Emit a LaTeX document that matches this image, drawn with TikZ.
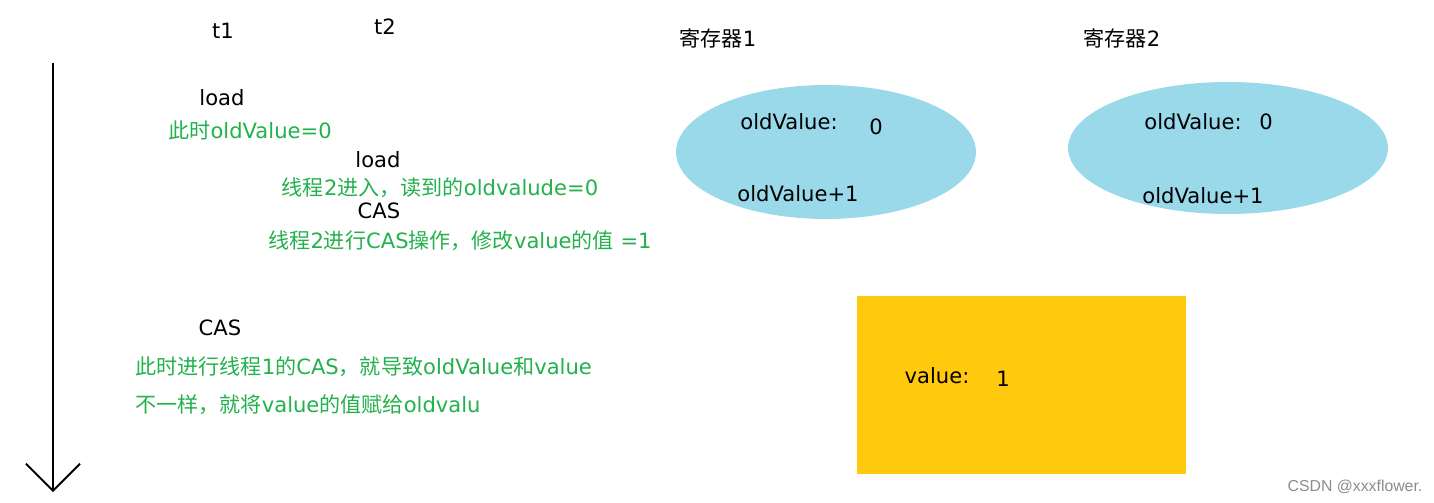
\documentclass[tikz,border=0pt]{standalone}
\usepackage{fontspec}
\setmainfont{DejaVu Sans}
\setsansfont{Liberation Sans}
\newfontfamily\cjk{Noto Sans CJK SC}
\newcommand{\zh}[1]{{\cjk #1}}
\usetikzlibrary{arrows.meta,shapes.geometric}
\definecolor{notegreen}{RGB}{34,177,76}
\definecolor{regblue}{RGB}{153,217,234}
\definecolor{memyellow}{RGB}{255,201,14}
\begin{document}
\begin{tikzpicture}[x=0.02cm, y=-0.02cm, font=\fontsize{12pt}{14pt}\selectfont,
  lbl/.style={inner sep=0pt, text=black},
  note/.style={inner sep=0pt, text=notegreen},
  regbox/.style={ellipse, fill=regblue, draw=none, minimum width=6cm, minimum height=2.68cm, inner sep=0pt},
  timeline/.style={line width=1.1pt, -{Straight Barb[length=0.54cm, width=1.08cm, line width=1.1pt]}}]
\useasboundingbox (0,0) rectangle (1434,503);
% thread labels and time axis
\node[lbl] (t1) at (223,31) {t1};
\node[lbl] (t2) at (385,27) {t2};
\coordinate (tstart) at (53,63);
\coordinate (tend) at (53,492);
\draw[timeline] (tstart) -- (tend);
% steps
\node[lbl] (load1) at (222,98) {load};
\node[note] (note1) at (250,130) {\zh{此时}oldValue=0};
\node[lbl] (load2) at (378,160) {load};
\node[note] (note2) at (440,188) {\zh{线程}2\zh{进入，读到的}oldvalude=0};
\node[lbl] (cas2) at (379,211) {CAS};
\node[note] (note3) at (460,241) {\zh{线程}2\zh{进行}CAS\zh{操作，修改}value\zh{的值} =1};
\node[lbl] (cas1) at (220,328) {CAS};
\node[note, anchor=west] (note4) at (135,367) {\zh{此时进行线程}1\zh{的}CAS\zh{，就导致}oldValue\zh{和}value};
\node[note, anchor=west] (note5) at (135,405) {\zh{不一样，就将}value\zh{的值赋给}oldvalu};
% registers
\node[lbl] (reg1lbl) at (718,38) {\zh{寄存器}1};
\node[lbl] (reg2lbl) at (1122,38) {\zh{寄存器}2};
\node[regbox] (reg1) at (826,152) {};
\node[regbox, minimum width=6.4cm, minimum height=2.64cm] (reg2) at (1228,148) {};
\node[lbl] (old1) at (789,122) {oldValue:};
\node[lbl] (zero1) at (876,127) {0};
\node[lbl] (inc1) at (798,194) {oldValue+1};
\node[lbl] (old2) at (1193,122) {oldValue:};
\node[lbl] (zero2) at (1266,122) {0};
\node[lbl] (inc2) at (1203,196) {oldValue+1};
% main memory
\node[fill=memyellow, minimum width=6.58cm, minimum height=3.56cm, inner sep=0pt] (mem) at (1021.5,385) {};
\node[lbl] (val) at (937,376) {value:};
\node[lbl] (one) at (1003,379) {1};
\node[inner sep=0pt, text=black!45, font=\fontsize{9pt}{11pt}\selectfont\sffamily] (mark) at (1355,487) {CSDN @xxxflower.};
\end{tikzpicture}
\end{document}
